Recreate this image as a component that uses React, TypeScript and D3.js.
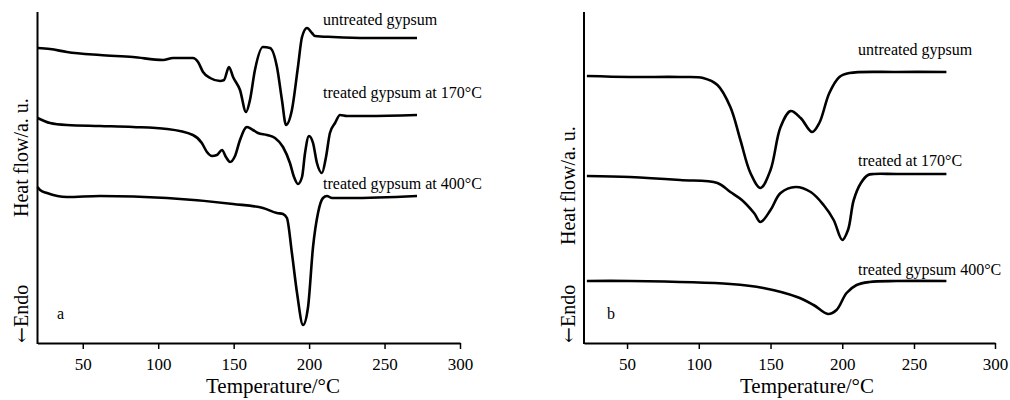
import React, { useRef, useEffect } from "react";
import * as d3 from "d3";

// temperature (°C) and heat flow (arbitrary units)
const tickValues = [50, 100, 150, 200, 250, 300];

// panel a
const aUntreatedT = [20, 28.3, 39.5, 61.4, 83.3, 103.2, 109.8, 123, 126.4, 129.7, 134.4, 141, 143.6, 146.9, 149.6, 154.2, 158.2, 160.8, 164.1, 169.4, 174.1, 178.7, 182, 184.7, 188.6, 192.6, 195.3, 198.6, 201.9, 203.9, 215.8, 238.4, 271.5];
const aUntreatedV = [295, 294, 291, 288, 286, 283, 285, 285, 281, 271, 265, 262, 263, 276, 266, 253, 231, 243, 273, 296, 295, 276, 243, 218, 233, 276, 306, 315, 310, 307, 306, 305, 305];

const a170T = [20, 28.3, 39.5, 61.4, 83.3, 105.8, 123, 128.9, 132.3, 135.6, 138.9, 142.3, 144.9, 147.6, 150.9, 154.2, 158.8, 162.8, 166.1, 172.1, 177.4, 182.7, 187.3, 190, 192.6, 195.3, 197.3, 199.9, 202.6, 205.2, 208.5, 211.2, 213.8, 217.2, 220.5, 225.1, 238.4, 271.5];
const a170V = [225, 220, 218, 217, 216, 214, 208, 200, 191, 187, 188, 193, 186, 181, 187, 203, 216, 213, 210, 208, 205, 196, 180, 166, 159, 166, 190, 207, 200, 180, 170, 186, 210, 220, 228, 227, 227, 228];

const a400T = [20, 21.7, 26.3, 39.5, 61.4, 105.8, 149.6, 169.4, 178.7, 182.7, 185.3, 188.6, 192, 196, 199.3, 202.6, 205.9, 209.2, 211.8, 215.2, 227.1, 271.5];
const a400V = [156, 153, 150, 146, 147, 145, 139, 135, 130, 129, 125, 90, 50, 18, 36, 96, 130, 145, 147, 145, 145, 147];

// panel b
const bUntreatedT = [22, 52, 87, 103, 113, 122, 129, 136, 143, 150, 157, 164, 171, 179, 184, 191, 198, 205, 238, 270];
const bUntreatedV = [267, 266, 266, 265, 258, 236, 203, 170, 155, 173, 216, 232, 225, 211, 220, 250, 266, 270, 271, 271];

const b170T = [22, 52, 87, 113, 122, 130, 138.5, 143, 150, 157, 167.5, 178, 187, 194, 200, 204, 208, 213, 218, 222, 238, 270];
const b170V = [167, 166, 163, 160, 151, 143, 130, 121, 133, 150, 156, 151, 138, 123, 103, 113, 143, 160, 168, 169, 169, 169];

const b400T = [22, 52, 122, 145, 168.5, 180, 190, 196, 203, 210, 219, 238, 270];
const b400V = [62, 62, 59, 55, 46, 38, 29, 33, 50, 58, 61, 62, 62];

const zip = (t: number[], v: number[]) => t.map((d, i) => [d, v[i]] as [number, number]);

const App = () => {
  const chartRef = useRef<SVGSVGElement>(null);

  useEffect(() => {
    const width = 1010;
    const height = 400;
    const font = "'Liberation Serif', 'Times New Roman', serif";
    const axisTop = 12;
    const axisBottom = 343;

    const svg = d3.select(chartRef.current);
    svg.selectAll("*").remove();
    svg.attr("width", width).attr("height", height);

    const yScale = d3.scaleLinear().domain([0, 331]).range([axisBottom, axisTop]);

    const panels = [
      {
        x: d3.scaleLinear().domain([20, 300]).range([37.5, 460]),
        series: [
          { data: zip(aUntreatedT, aUntreatedV), label: "untreated gypsum", lx: 323, ly: 25 },
          { data: zip(a170T, a170V), label: "treated gypsum at 170°C", lx: 323, ly: 98 },
          { data: zip(a400T, a400V), label: "treated gypsum at 400°C", lx: 323, ly: 189 },
        ],
        letter: "a",
        letterX: 57,
        titleX: 273,
        ylabelX: 28,
        heatY: 217,
        curve: d3.curveMonotoneX,
      },
      {
        x: d3.scaleLinear().domain([20, 250, 300]).range([584, 914, 995]),
        series: [
          { data: zip(bUntreatedT, bUntreatedV), label: "untreated gypsum", lx: 858, ly: 55 },
          { data: zip(b170T, b170V), label: "treated at 170°C", lx: 858, ly: 166 },
          { data: zip(b400T, b400V), label: "treated gypsum 400°C", lx: 858, ly: 275 },
        ],
        letter: "b",
        letterX: 607,
        titleX: 807,
        ylabelX: 575,
        heatY: 245,
        curve: d3.curveCatmullRom.alpha(0.5),
      },
    ];

    panels.forEach((p) => {
      const g = svg.append("g");
      const x0 = p.x.range()[0];

      // x axis
      const xAxis = d3
        .axisBottom(p.x)
        .tickValues(tickValues)
        .tickSize(6)
        .tickSizeOuter(0)
        .tickPadding(9);
      const ax = g
        .append("g")
        .attr("transform", `translate(0, ${axisBottom})`)
        .attr("font-family", font)
        .attr("font-size", 17)
        .call(xAxis);
      ax.select(".domain").attr("stroke", "#000").attr("stroke-width", 2);
      ax.selectAll(".tick line").attr("stroke", "#000").attr("stroke-width", 1.5);
      ax.selectAll(".tick text")
        .attr("fill", "#000")
        .style("font-family", font)
        .style("font-size", "17px");

      // y axis line (no ticks)
      g.append("line")
        .attr("x1", x0)
        .attr("x2", x0)
        .attr("y1", yScale.range()[1])
        .attr("y2", axisBottom + 1)
        .attr("stroke", "#000")
        .attr("stroke-width", 2);

      // curves
      const line = d3
        .line<[number, number]>()
        .x((d) => p.x(d[0]))
        .y((d) => yScale(d[1]))
        .curve(p.curve);

      p.series.forEach((s) => {
        g.append("path")
          .datum(s.data)
          .attr("fill", "none")
          .attr("stroke", "#000")
          .attr("stroke-width", 2.6)
          .attr("stroke-linejoin", "round")
          .attr("d", line);

        g.append("text")
          .attr("x", s.lx)
          .attr("y", s.ly)
          .attr("fill", "#000")
          .style("font-family", font)
          .style("font-size", "16px")
          .text(s.label);
      });

      // panel letter
      g.append("text")
        .attr("x", p.letterX)
        .attr("y", 319)
        .attr("fill", "#000")
        .style("font-family", font)
        .style("font-size", "16px")
        .text(p.letter);

      // axis titles
      g.append("text")
        .attr("x", p.titleX)
        .attr("y", 393)
        .attr("text-anchor", "middle")
        .attr("fill", "#000")
        .style("font-family", font)
        .style("font-size", "21px")
        .text("Temperature/°C");

      const endo = g
        .append("text")
        .attr("transform", `translate(${p.ylabelX}, 343) rotate(-90)`)
        .attr("fill", "#000")
        .style("font-family", font)
        .style("font-size", "20px");
      endo
        .append("tspan")
        .style("font-family", "'DejaVu Serif', 'DejaVu Sans', serif")
        .style("font-size", "19px")
        .text("←");
      endo.append("tspan").text("Endo");

      g.append("text")
        .attr("transform", `translate(${p.ylabelX}, ${p.heatY}) rotate(-90)`)
        .attr("fill", "#000")
        .style("font-family", font)
        .style("font-size", "20px")
        .text("Heat flow/a. u.");
    });
  }, []);

  return (
    <svg ref={chartRef} style={{ position: "absolute", left: 0, top: 0, background: "#fff" }}></svg>
  );
};

export default App;
